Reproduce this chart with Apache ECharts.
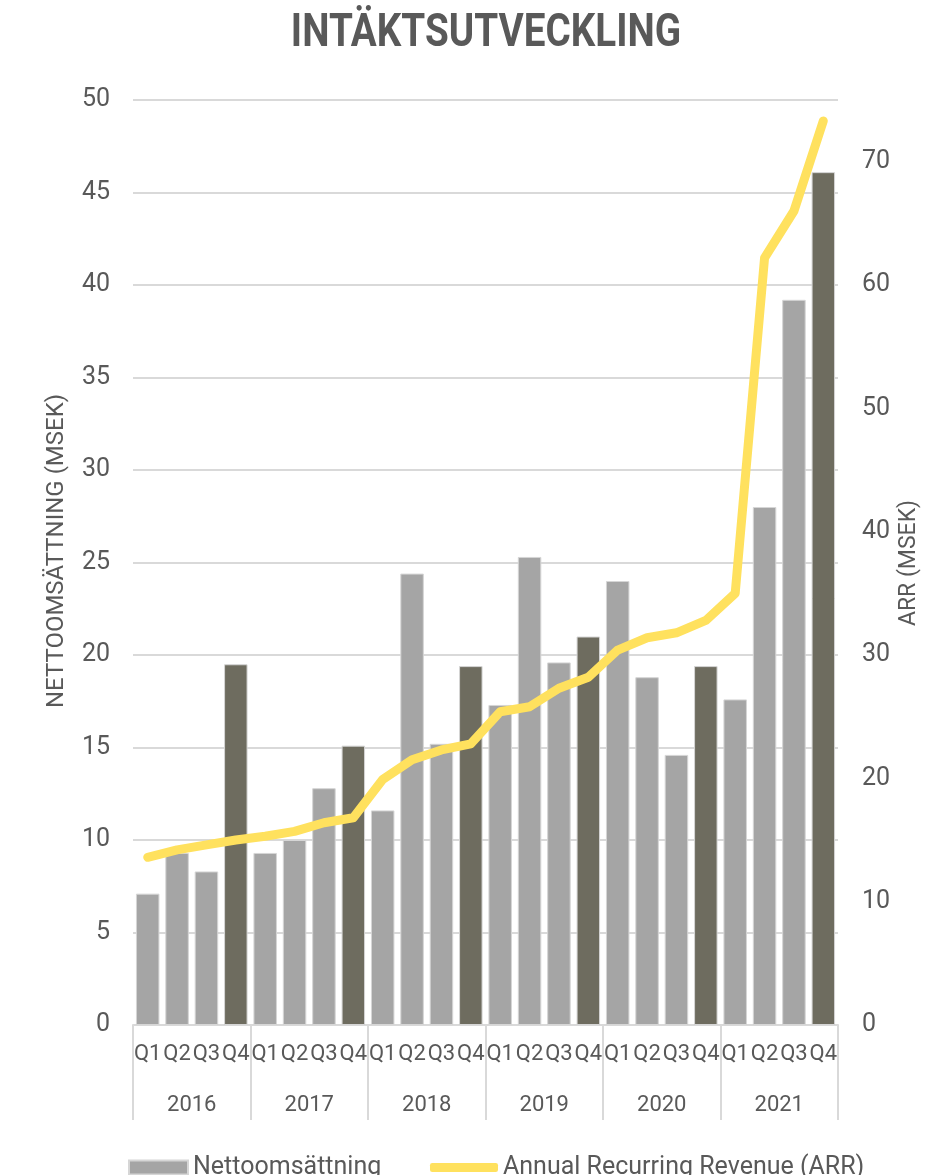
<!DOCTYPE html>
<html>
<head>
<meta charset="utf-8">
<script src="https://cdn.jsdelivr.net/npm/echarts@6/dist/echarts.min.js"></script>
<style>
  html, body { margin: 0; padding: 0; background: #fff; }
  #chart { width: 949px; height: 1175px; }
</style>
</head>
<body>
<div id="chart"></div>
<script>
const quarters = ['Q1', 'Q2', 'Q3', 'Q4']
const years = ['2016', '2017', '2018', '2019', '2020', '2021']
// nettoomsättning per kvartal (MSEK)
const netSales = [
  7.1, 9.3, 8.3, 19.5,
  9.3, 10.0, 12.8, 15.1,
  11.6, 24.4, 15.2, 19.4,
  17.3, 25.3, 19.6, 21.0,
  24.0, 18.8, 14.6, 19.4,
  17.6, 28.0, 39.2, 46.1
]
// ARR (MSEK)
const arr = [
  13.6, 14.2, 14.6, 15.0,
  15.3, 15.7, 16.4, 16.8,
  19.9, 21.5, 22.3, 22.8,
  25.4, 25.8, 27.3, 28.2,
  30.4, 31.4, 31.8, 32.8,
  35.0, 62.2, 66.0, 73.3
]
const leftTicks = { min: 0, max: 50, interval: 5 }
const rightTicks = { min: 0, max: 75, interval: 10 }

const textColor = '#595959'
const gridColor = '#d9d9d9'
const font = 'Roboto, "Noto Sans", sans-serif'

const quarterLabels = []
years.forEach(() => quarters.forEach(q => quarterLabels.push(q)))

const barData = netSales.map((v, i) => ({
  value: v,
  itemStyle: { color: i % 4 === 3 ? '#6e6c5f' : '#a5a5a5' }
}))

const myChart = echarts.init(document.getElementById('chart'))

const option = {
  animation: false,
  textStyle: { fontFamily: font },
  graphic: [
    {
      type: 'text',
      x: 486,
      y: 34,
      scaleX: 0.84,
      originX: 0,
      originY: 0,
      style: {
        text: 'INTÄKTSUTVECKLING',
        font: 'bold 46px Roboto, sans-serif',
        fill: textColor,
        textAlign: 'center',
        textVerticalAlign: 'middle'
      }
    },
    {
      type: 'text',
      x: 57,
      y: 551,
      rotation: Math.PI / 2,
      style: {
        text: 'NETTOOMSÄTTNING (MSEK)',
        font: '24px Roboto, sans-serif',
        fill: textColor,
        textAlign: 'center',
        textVerticalAlign: 'middle'
      }
    },
    {
      type: 'text',
      x: 909,
      y: 563,
      rotation: Math.PI / 2,
      style: {
        text: 'ARR (MSEK)',
        font: '23px Roboto, sans-serif',
        fill: textColor,
        textAlign: 'center',
        textVerticalAlign: 'middle'
      }
    }
  ],
  grid: {
    left: 133,
    right: 111,
    top: 100,
    bottom: 150
  },
  legend: [
    {
      data: ['Nettoomsättning'],
      left: 123,
      top: 1150,
      itemWidth: 59,
      itemHeight: 14,
      icon: 'rect',
      textStyle: { color: textColor, fontSize: 25, fontFamily: font }
    },
    {
      data: ['Annual Recurring Revenue (ARR)'],
      left: 425,
      top: 1150,
      itemWidth: 68,
      itemHeight: 9,
      icon: 'roundRect',
      textStyle: { color: textColor, fontSize: 25, fontFamily: font }
    }
  ],
  xAxis: [
    {
      type: 'category',
      data: quarterLabels,
      position: 'bottom',
      axisLine: { show: true, lineStyle: { color: gridColor, width: 2 } },
      axisTick: { show: false },
      axisLabel: {
        interval: 0,
        margin: 18,
        color: textColor,
        fontSize: 22
      }
    },
    {
      type: 'category',
      data: years,
      position: 'bottom',
      axisLine: { show: false },
      axisTick: {
        show: true,
        length: 95,
        interval: 0,
        alignWithLabel: false,
        lineStyle: { color: gridColor, width: 2 }
      },
      axisLabel: {
        interval: 0,
        margin: 69,
        color: textColor,
        fontSize: 22
      }
    }
  ],
  yAxis: [
    {
      type: 'value',
      min: leftTicks.min,
      max: leftTicks.max,
      interval: leftTicks.interval,
      axisLine: { show: false },
      axisTick: { show: false },
      splitLine: { lineStyle: { color: gridColor, width: 2 } },
      axisLabel: { color: textColor, fontSize: 25, margin: 23 }
    },
    {
      type: 'value',
      min: rightTicks.min,
      max: rightTicks.max,
      interval: rightTicks.interval,
      axisLine: { show: false },
      axisTick: { show: false },
      splitLine: { show: false },
      axisLabel: {
        color: textColor,
        fontSize: 25,
        margin: 24,
        formatter: v => (v % 10 === 0 ? v : '')
      }
    }
  ],
  series: [
    {
      name: 'Nettoomsättning',
      type: 'bar',
      xAxisIndex: 0,
      yAxisIndex: 0,
      data: barData,
      barCategoryGap: '20%',
      itemStyle: { color: '#a5a5a5', borderColor: '#d6d6d6', borderWidth: 1 }
    },
    {
      name: 'Annual Recurring Revenue (ARR)',
      type: 'line',
      xAxisIndex: 0,
      yAxisIndex: 1,
      data: arr,
      symbol: 'none',
      itemStyle: { color: '#ffe15e' },
      lineStyle: { color: '#ffe15e', width: 9, cap: 'round', join: 'round' }
    }
  ]
}

myChart.setOption(option)
</script>
</body>
</html>
